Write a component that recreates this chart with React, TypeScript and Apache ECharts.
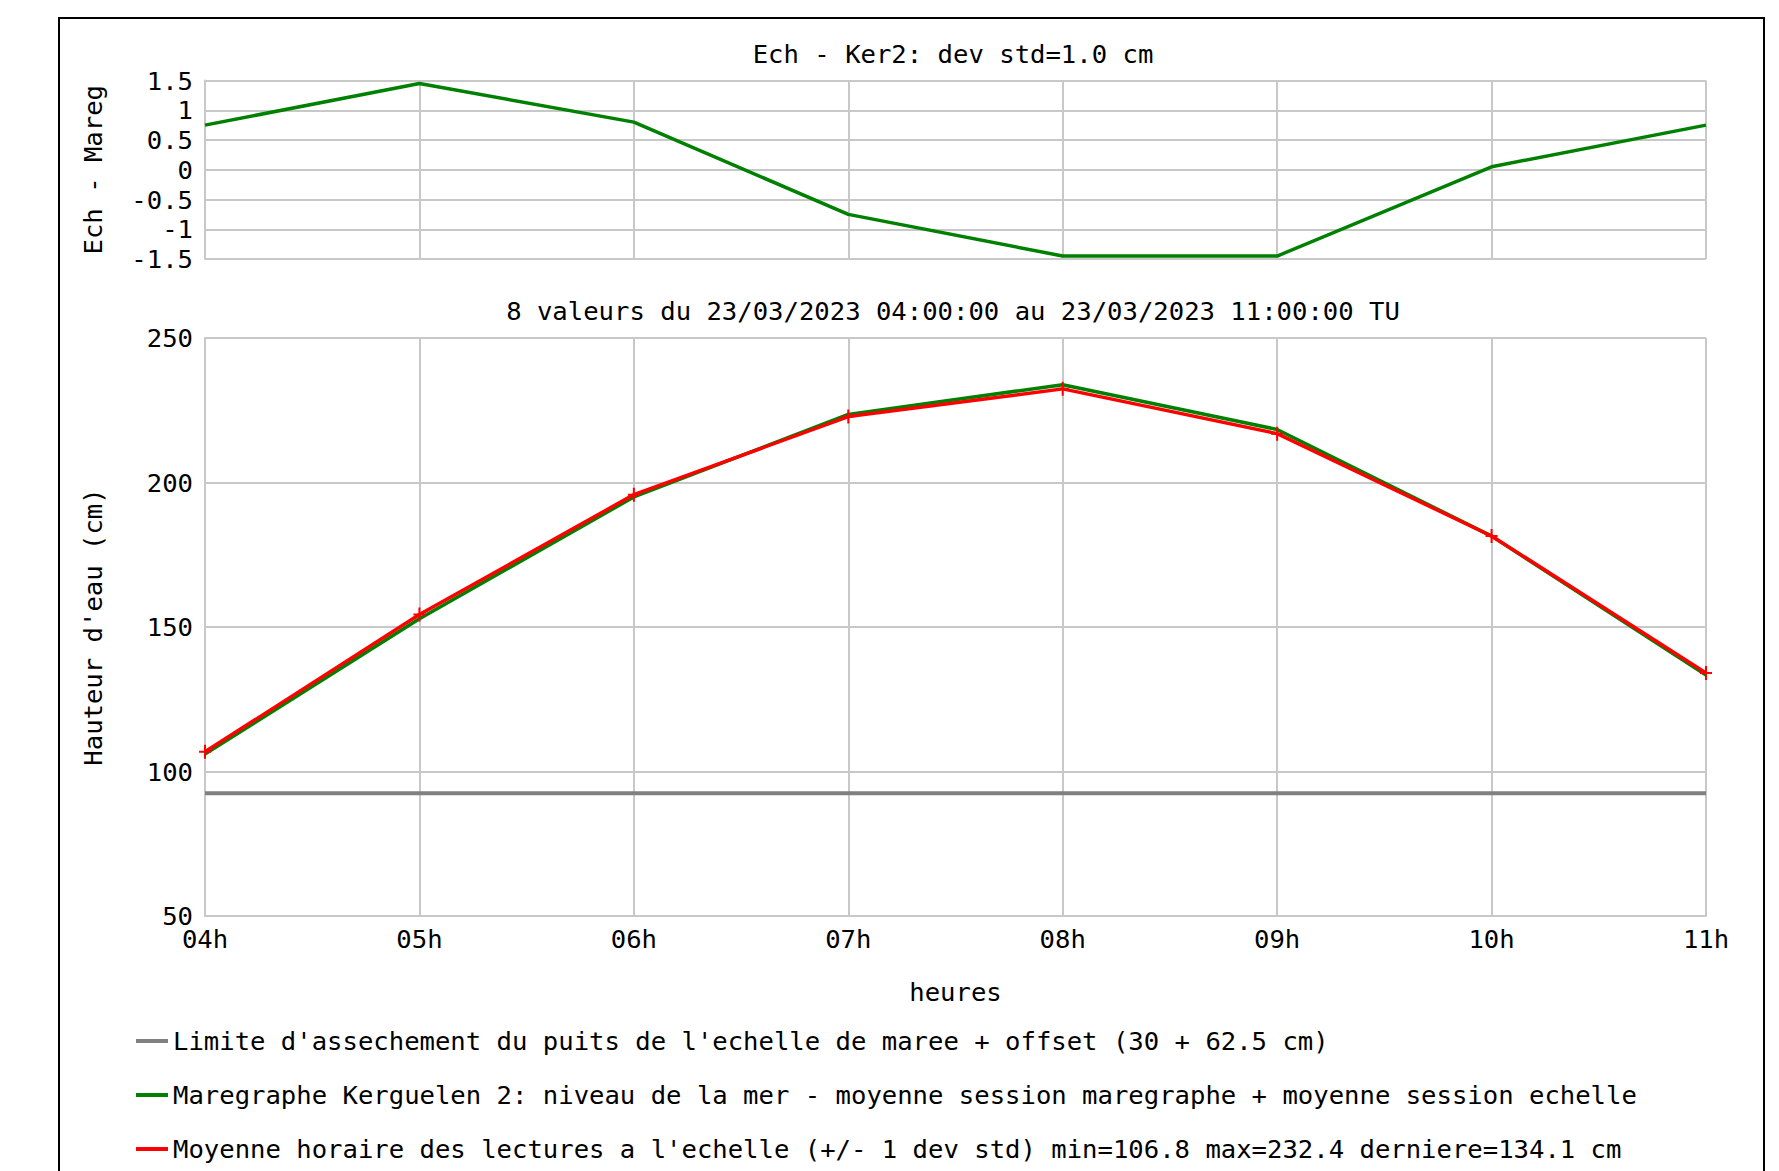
import React, { useEffect, useRef } from "react";
import * as echarts from "echarts";

const hours = ["04h", "05h", "06h", "07h", "08h", "09h", "10h", "11h"];
const diffValues = [0.75, 1.45, 0.8, -0.75, -1.45, -1.45, 0.05, 0.75];
const maregValues = [106.05, 152.85, 195.0, 223.55, 233.85, 218.35, 181.45, 133.35];
const echelleValues = [106.8, 154.3, 195.8, 222.8, 232.4, 216.9, 181.5, 134.1];
const limitValues = [92.5, 92.5, 92.5, 92.5, 92.5, 92.5, 92.5, 92.5];

const topTitle = "Ech - Ker2: dev std=1.0 cm";
const bottomTitle = "8 valeurs du 23/03/2023 04:00:00 au 23/03/2023 11:00:00 TU";
const limitName = "Limite d'assechement du puits de l'echelle de maree + offset (30 + 62.5 cm)";
const maregName = "Maregraphe Kerguelen 2: niveau de la mer - moyenne session maregraphe + moyenne session echelle";
const echelleName = "Moyenne horaire des lectures a l'echelle (+/- 1 dev std) min=106.8 max=232.4 derniere=134.1 cm";

const FONT = "DejaVu Sans Mono";
const FS = 25.6;
const GRID_COLOR = "#c8c8c8";

export default function App() {
  const ref = useRef<HTMLDivElement>(null);
  useEffect(() => {
    if (!ref.current) return;
    const chart = echarts.init(ref.current, undefined, { renderer: "svg" });
    const txt = { fontFamily: FONT, fontSize: FS, color: "#000" };
    const axisCommon = {
      axisLine: { show: true, lineStyle: { color: GRID_COLOR, width: 2 } },
      axisTick: { show: false },
      splitLine: { show: true, lineStyle: { color: GRID_COLOR, width: 2 } },
    };
    chart.setOption({
      animation: false,
      backgroundColor: "#fff",
      textStyle: { fontFamily: FONT },
      title: [
        { text: topTitle, left: 948, top: 36, textAlign: "center", textStyle: { ...txt, fontWeight: "normal" } },
        { text: bottomTitle, left: 948, top: 293, textAlign: "center", textStyle: { ...txt, fontWeight: "normal" } },
      ],
      grid: [
        { left: 205, top: 80.5, width: 1501, height: 178.5 },
        { left: 205, top: 338, width: 1501, height: 578 },
      ],
      xAxis: [
        {
          gridIndex: 0, type: "category", data: hours, boundaryGap: false,
          axisLabel: { show: false }, ...axisCommon,
        },
        {
          gridIndex: 1, type: "category", data: hours, boundaryGap: false,
          axisLabel: { ...txt, margin: 10 }, ...axisCommon,
          name: "heures", nameLocation: "middle", nameGap: 63, nameTextStyle: txt,
        },
      ],
      yAxis: [
        {
          gridIndex: 0, type: "value", min: -1.5, max: 1.5, interval: 0.5,
          axisLabel: { ...txt, margin: 12 }, ...axisCommon,
          name: "Ech - Mareg", nameLocation: "middle", nameGap: 99, nameRotate: 90, nameTextStyle: txt,
        },
        {
          gridIndex: 1, type: "value", min: 50, max: 250, interval: 50,
          axisLabel: { ...txt, margin: 12 }, ...axisCommon,
          name: "Hauteur d'eau (cm)", nameLocation: "middle", nameGap: 99, nameRotate: 90, nameTextStyle: txt,
        },
      ],
      legend: {
        orient: "vertical", left: 136, top: 1028, padding: 0,
        icon: "rect", itemWidth: 32, itemHeight: 4, itemGap: 28,
        data: [limitName, maregName, echelleName],
        textStyle: { ...txt, lineHeight: 26 },
      },
      series: [
        {
          name: "Ech - Mareg", type: "line", xAxisIndex: 0, yAxisIndex: 0, data: diffValues,
          color: "#008000", lineStyle: { color: "#008000", width: 3.5 }, symbol: "none",
        },
        {
          name: limitName, type: "line", xAxisIndex: 1, yAxisIndex: 1, data: limitValues,
          color: "#808080", lineStyle: { color: "#808080", width: 4 }, symbol: "none",
        },
        {
          name: maregName, type: "line", xAxisIndex: 1, yAxisIndex: 1, data: maregValues,
          color: "#008000", lineStyle: { color: "#008000", width: 3.5 }, symbol: "none",
        },
        {
          name: echelleName, type: "line", xAxisIndex: 1, yAxisIndex: 1, data: echelleValues,
          color: "#ff0000", lineStyle: { color: "#ff0000", width: 3.5 },
          symbol: "path://M5,0H7V6H12V8H7V14H5V8H0V6H5Z", symbolSize: [12, 14],
          showAllSymbol: true, itemStyle: { color: "#ff0000" }, clip: false,
        },
      ],
      graphic: [
        {
          type: "rect", shape: { x: 59, y: 18, width: 1705, height: 1200 },
          style: { fill: "none", stroke: "#000", lineWidth: 2 }, silent: true,
        },
      ],
    });
    return () => chart.dispose();
  }, []);
  return <div ref={ref} style={{ position: "absolute", left: 0, top: 0, width: 1779, height: 1171 }} />;
}
